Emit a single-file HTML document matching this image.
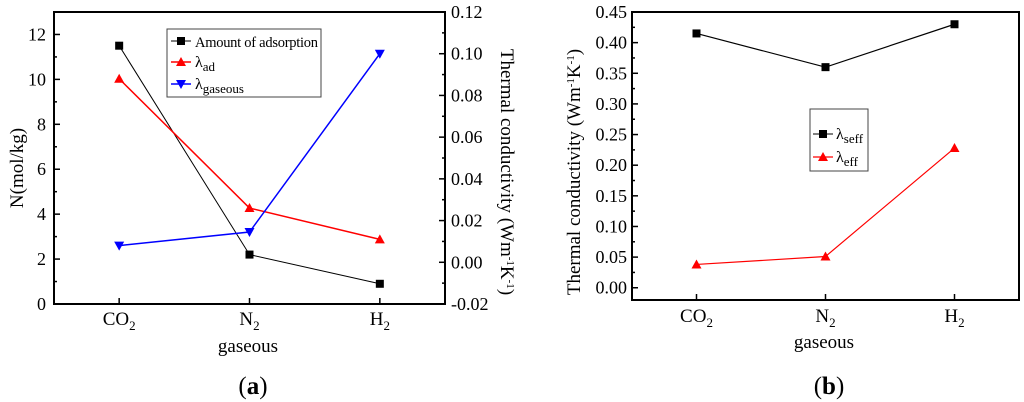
<!DOCTYPE html>
<html><head><meta charset="utf-8"><style>
html,body{margin:0;padding:0;background:#fff}
svg{display:block;font-family:"Liberation Serif",serif}
</style></head><body>
<svg id="s" width="1024" height="402" viewBox="0 0 1024 402"></svg>
<script>
const categories=["CO2","N2","H2"];
const adsorption=[11.5,2.2,0.9];
const lambdaAd=[0.088,0.026,0.011];
const lambdaGas=[0.008,0.0145,0.100];
const lambdaSeff=[0.415,0.36,0.43];
const lambdaEff=[0.038,0.051,0.228];
const leftTicksA=[0,2,4,6,8,10,12];
const rightTicksA=[-0.02,0,0.02,0.04,0.06,0.08,0.10,0.12];
const ticksB=[0,0.05,0.10,0.15,0.20,0.25,0.30,0.35,0.40,0.45];

const S=document.getElementById('s');const NS="http://www.w3.org/2000/svg";
function el(t,a,p){const e=document.createElementNS(NS,t);for(const k in a)e.setAttribute(k,a[k]);(p||S).appendChild(e);return e;}
function txt(x,y,s,a,p){const e=el('text',Object.assign({x:x,y:y,'font-size':18,fill:'#000'},a),p);e.innerHTML=s;return e;}
function catLabel(x,y,c,g){
  const m=c.match(/^([A-Z]+)(\d)$/);
  return txt(x,y,m[1]+'<tspan font-size="13" dy="5">'+m[2]+'</tspan>',{'text-anchor':'middle','font-size':19},g);
}
function square(x,y,col,g){return el('rect',{x:x-4,y:y-4,width:8,height:8,fill:col},g);}
function triUp(x,y,col,g){return el('path',{d:`M${x},${y-5}L${x+5},${y+4}L${x-5},${y+4}Z`,fill:col},g);}
function triDn(x,y,col,g){return el('path',{d:`M${x},${y+5}L${x+5},${y-4}L${x-5},${y-4}Z`,fill:col},g);}

// ---------- chart a ----------
const A={l:54,r:445,t:12,b:304};
const xa=i=>A.l+(i+0.5)*(A.r-A.l)/3;
const ya=v=>A.b-v/13*(A.b-A.t);
const ya2=v=>A.b-(v+0.02)/0.14*(A.b-A.t);
const ga=el('g',{});


const pa=el('g',{},ga);


el('rect',{x:A.l,y:A.t,width:A.r-A.l,height:A.b-A.t,fill:'none',stroke:'#000','stroke-width':2},pa);
for(let v=0;v<=13;v++){const y=ya(v);const maj=v%2===0;el('line',{x1:A.l,x2:A.l+(maj?6:3),y1:y,y2:y,stroke:'#000','stroke-width':1.5},pa);}
leftTicksA.forEach(v=>{const t=txt(A.l-8,ya(v)+6,String(v),{'text-anchor':'end'},pa);});
for(let k=0;k<=14;k++){const v=-0.02+k*0.01;const y=ya2(v);const maj=k%2===0;el('line',{x1:A.r,x2:A.r-(maj?6:3),y1:y,y2:y,stroke:'#000','stroke-width':1.5},pa);}
rightTicksA.forEach(v=>{const t=txt(A.r+6,ya2(v)+6,v.toFixed(2),{},pa);});
categories.forEach((c,i)=>{el('line',{x1:xa(i),x2:xa(i),y1:A.b,y2:A.b-6,stroke:'#000','stroke-width':1.5},pa);const t=catLabel(xa(i),A.b+21,c,pa);});
let t=txt(248,352,'gaseous',{'text-anchor':'middle','font-size':19},pa);
t=txt(0,0,'N(mol/kg)',{'text-anchor':'middle','font-size':19,transform:'translate(23,168) rotate(-90)'},pa);
t=txt(0,0,'Thermal conductivity (Wm<tspan font-size="11" dy="-6">-1</tspan><tspan dy="6">K</tspan><tspan font-size="11" dy="-6">-1</tspan><tspan dy="6">)</tspan>',{'text-anchor':'middle','font-size':19,transform:'translate(501,172) rotate(90)'},pa);

function series(vals,xf,yf,col,mk,name,g,w){
  const s=el('g',{},g);
  
  
  el('polyline',{points:vals.map((v,i)=>xf(i)+','+yf(v)).join(' '),fill:'none',stroke:col,'stroke-width':w||1.2},s);
  vals.forEach((v,i)=>mk(xf(i),yf(v),col,s));
}
series(adsorption,xa,ya,'#000',square,'series-adsorption',ga,1);
series(lambdaAd,xa,ya2,'#f00',triUp,'series-lambda-ad',ga,1.5);
series(lambdaGas,xa,ya2,'#00f',triDn,'series-lambda-gaseous',ga,1.5);

const la=el('g',{},ga);


el('rect',{x:167,y:29,width:154,height:68,fill:'#fff',stroke:'#444','stroke-width':1},la);
el('line',{x1:171,x2:191,y1:41,y2:41,stroke:'#000'},la);square(181,41,'#000',la);
txt(195,47,'Amount of adsorption',{'font-size':14.5,textLength:123},la);
el('line',{x1:171,x2:191,y1:62,y2:62,stroke:'#f00','stroke-width':1.5},la);triUp(181,62,'#f00',la);
txt(195,67,'λ<tspan font-size="13" dy="4">ad</tspan>',{'font-size':16},la);
el('line',{x1:171,x2:191,y1:84,y2:84,stroke:'#00f','stroke-width':1.5},la);triDn(181,84,'#00f',la);
txt(195,89,'λ<tspan font-size="13" dy="4">gaseous</tspan>',{'font-size':16},la);
t=txt(253,394,'(<tspan font-weight="bold">a</tspan>)',{'text-anchor':'middle','font-size':25},ga);

// ---------- chart b ----------
const B={l:632,r:1019,t:12,b:300};
const xb=i=>B.l+(i+0.5)*(B.r-B.l)/3;
const yb=v=>B.b-(v+0.02)/0.47*(B.b-B.t);
const gb=el('g',{});


el('rect',{x:B.l,y:B.t,width:B.r-B.l,height:B.b-B.t,fill:'none',stroke:'#000','stroke-width':2},gb);
for(let k=0;k<=18;k++){const v=k*0.025;const y=yb(v);const maj=k%2===0;el('line',{x1:B.l,x2:B.l+(maj?6:3),y1:y,y2:y,stroke:'#000','stroke-width':1.5},gb);}
ticksB.forEach(v=>{const t=txt(B.l-5,yb(v)+6,v.toFixed(2),{'text-anchor':'end'},gb);});
categories.forEach((c,i)=>{el('line',{x1:xb(i),x2:xb(i),y1:B.b,y2:B.b-6,stroke:'#000','stroke-width':1.5},gb);const t=catLabel(xb(i),B.b+22,c,gb);});
t=txt(824,348,'gaseous',{'text-anchor':'middle','font-size':19},gb);
t=txt(0,0,'Thermal conductivity (Wm<tspan font-size="11" dy="-6">-1</tspan><tspan dy="6">K</tspan><tspan font-size="11" dy="-6">-1</tspan><tspan dy="6">)</tspan>',{'text-anchor':'middle','font-size':19,transform:'translate(580,172) rotate(-90)'},gb);
series(lambdaSeff,xb,yb,'#000',square,'series-lambda-seff',gb,1.2);
series(lambdaEff,xb,yb,'#f00',triUp,'series-lambda-eff',gb,1.2);
const lb=el('g',{},gb);


el('rect',{x:810,y:109,width:58,height:62,fill:'#fff',stroke:'#444','stroke-width':1},lb);
el('line',{x1:813,x2:833,y1:134,y2:134,stroke:'#000'},lb);square(823,134,'#000',lb);
txt(836,139,'λ<tspan font-size="13" dy="4">seff</tspan>',{'font-size':16},lb);
el('line',{x1:813,x2:833,y1:157,y2:157,stroke:'#f00','stroke-width':1.2},lb);triUp(823,157,'#f00',lb);
txt(836,162,'λ<tspan font-size="13" dy="4">eff</tspan>',{'font-size':16},lb);
t=txt(829,394,'(<tspan font-weight="bold">b</tspan>)',{'text-anchor':'middle','font-size':25},gb);
</script>
</body></html>
